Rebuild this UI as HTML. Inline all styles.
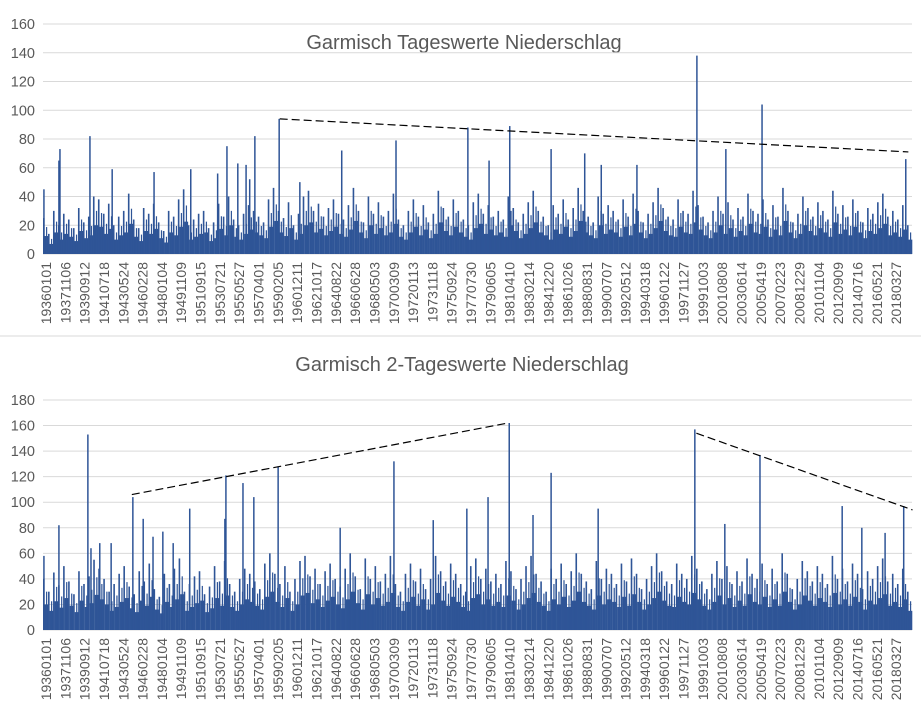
<!DOCTYPE html>
<html><head><meta charset="utf-8"><style>
html,body{margin:0;padding:0;background:#fff;}
svg{display:block;font-family:"Liberation Sans",sans-serif;}
</style></head><body>
<svg id="c" width="921" height="709" viewBox="0 0 921 709" xmlns="http://www.w3.org/2000/svg">
<rect width="921" height="709" fill="#fff"/>
<line x1="0" y1="336" x2="921" y2="336" stroke="#d9d9d9" stroke-width="1"/>
<text x="464" y="49" text-anchor="middle" font-size="20" fill="#595959">Garmisch Tageswerte Niederschlag</text>
<text x="462" y="371" text-anchor="middle" font-size="20" fill="#595959">Garmisch 2-Tageswerte Niederschlag</text>
</svg>
<script>
const xLabels=["19360101","19371106","19390912","19410718","19430524","19460228","19480104","19491109","19510915","19530721","19550527","19570401","19590205","19601211","19621017","19640822","19660628","19680503","19700309","19720113","19731118","19750924","19770730","19790605","19810410","19830214","19841220","19861026","19880831","19900707","19920512","19940318","19960122","19971127","19991003","20010808","20030614","20050419","20070223","20081229","20101104","20120909","20140716","20160521","20180327"];
const topTicks=[0,20,40,60,80,100,120,140,160];
const botTicks=[0,20,40,60,80,100,120,140,160,180];
const topBase=[25,14,30,20,28,24,18,32,22,26,40,38,28,35,20,26,30,42,24,18,32,28,35,22,16,30,26,38,45,20,24,28,30,18,22,35,26,40,24,20,28,34,30,26,22,38,46,30,25,36,20,28,40,44,30,35,26,32,38,28,24,34,46,30,22,40,28,36,26,30,42,24,20,30,38,26,34,22,28,44,32,26,38,30,24,20,36,42,28,34,26,30,24,40,32,22,28,36,44,30,26,20,34,28,38,24,32,46,30,26,22,40,28,34,30,24,38,26,42,30,22,28,36,46,32,26,24,38,30,28,44,34,26,22,30,40,28,36,24,32,26,42,30,28,38,24,34,26,46,30,22,28,40,32,26,36,30,24,44,28,34,26,38,30,22,32,28,36,42,26,30,24,34,20];
const topSpikeYears=[1935.8,1937.25,1937.35,1940.25,1942.4,1946.45,1950.0,1952.6,1953.5,1954.55,1955.35,1955.7,1956.2,1958.55,1960.55,1964.6,1969.85,1976.8,1978.85,1980.85,1984.85,1988.1,1989.7,1993.15,1998.95,2001.75,2005.25,2019.15];
const topSpikeVals=[45,65,73,82,59,57,59,56,75,63,62,52,82,94,50,72,79,88,65,89,73,70,62,62,138,73,104,66];
const topTrend=[[1958.6,94],[2019.4,71]];
const botBase=[40,30,45,35,50,38,28,46,36,42,55,48,40,30,36,44,50,34,28,46,38,52,32,26,44,36,48,56,30,36,42,46,28,34,50,38,54,36,30,40,48,44,38,32,52,60,44,36,50,30,40,54,58,42,48,36,46,52,40,34,48,60,42,32,56,40,50,38,44,58,36,30,44,52,38,48,32,40,58,46,38,52,44,36,30,50,56,40,48,38,44,36,54,46,32,40,50,58,44,38,30,48,40,52,36,46,60,44,38,32,54,40,48,44,36,52,38,56,44,32,40,50,60,46,38,36,52,44,40,58,48,38,32,44,54,40,50,36,46,38,56,44,40,52,36,48,38,60,44,32,40,54,46,38,50,44,36,58,40,48,38,52,44,32,46,40,50,56,38,44,36,48,30];
const botSpikeYears=[1935.8,1937.25,1940.05,1940.35,1941.2,1942.3,1944.4,1945.4,1946.35,1947.3,1948.3,1949.9,1953.3,1953.4,1955.05,1956.1,1958.45,1964.45,1969.65,1973.45,1976.7,1978.75,1980.8,1983.1,1984.85,1989.4,1998.75,2001.65,2005.05,2013.0,2014.9,2017.15,2018.95];
const botSpikeVals=[58,82,153,64,68,68,104,87,73,77,68,95,87,121,115,104,128,80,132,86,95,104,162,90,123,95,157,83,137,97,80,76,97];
const botTrend1=[[1944.3,106],[1980.7,162]];
const botTrend2=[[1998.9,154],[2019.8,94]];

const NS='http://www.w3.org/2000/svg';
const svg=document.getElementById('c');
const L=43,R=912;
function xs(y){return 46+(y-1936)*10.34;}
function mk(t,a){const e=document.createElementNS(NS,t);for(const k in a)e.setAttribute(k,a[k]);svg.appendChild(e);return e;}

function chart(pfx,y0,y1,max,ticks,base,sy,sv,trends,labTop){
  const ys=v=>y0-(v/max)*(y0-y1);
  ticks.forEach(t=>{
    const g=mk('line',{x1:L,x2:R,y1:ys(t),y2:ys(t),stroke:'#d9d9d9','stroke-width':1});
    
    
    const tx=mk('text',{x:35,y:ys(t)+5,'text-anchor':'end','font-size':14.5,fill:'#595959'});
    tx.textContent=t;
    
    
  });
  const cw=(R-L)/base.length;
  base.forEach((v,i)=>{
    const x=L+i*cw;
    const b=mk('rect',{x:x,y:ys(v),width:1.6,height:y0-ys(v),fill:'#2f5597'});
    
    
    const b2=mk('rect',{x:x+1.5,y:ys(v*0.5),width:cw-1.2,height:y0-ys(v*0.5),fill:'#2f5597'});
    
    
    const b3=mk('rect',{x:x+cw*0.6,y:ys(v*0.75),width:1.2,height:y0-ys(v*0.75),fill:'#2f5597'});
    
    
  });
  sy.forEach((yr,i)=>{
    const b=mk('rect',{x:xs(yr)-0.75,y:ys(sv[i]),width:1.5,height:y0-ys(sv[i]),fill:'#2f5597'});
    
    
  });
  trends.forEach(tr=>{
    const l=mk('line',{x1:xs(tr[0][0]),y1:ys(tr[0][1]),x2:xs(tr[1][0]),y2:ys(tr[1][1]),stroke:'#000','stroke-width':1.2,'stroke-dasharray':'8,4'});
    
    
  });
  xLabels.forEach((s,i)=>{
    const x=46+i*19.32+5;
    const t=mk('text',{x:x,y:labTop,'text-anchor':'end','font-size':14,fill:'#595959',transform:'rotate(-90 '+x+' '+labTop+')'});
    t.textContent=s;
    
    
  });
}
chart('top',254,24,160,topTicks,topBase,topSpikeYears,topSpikeVals,[topTrend],262);
chart('bottom',630,400,180,botTicks,botBase,botSpikeYears,botSpikeVals,[botTrend1,botTrend2],638);
</script>
</body></html>
